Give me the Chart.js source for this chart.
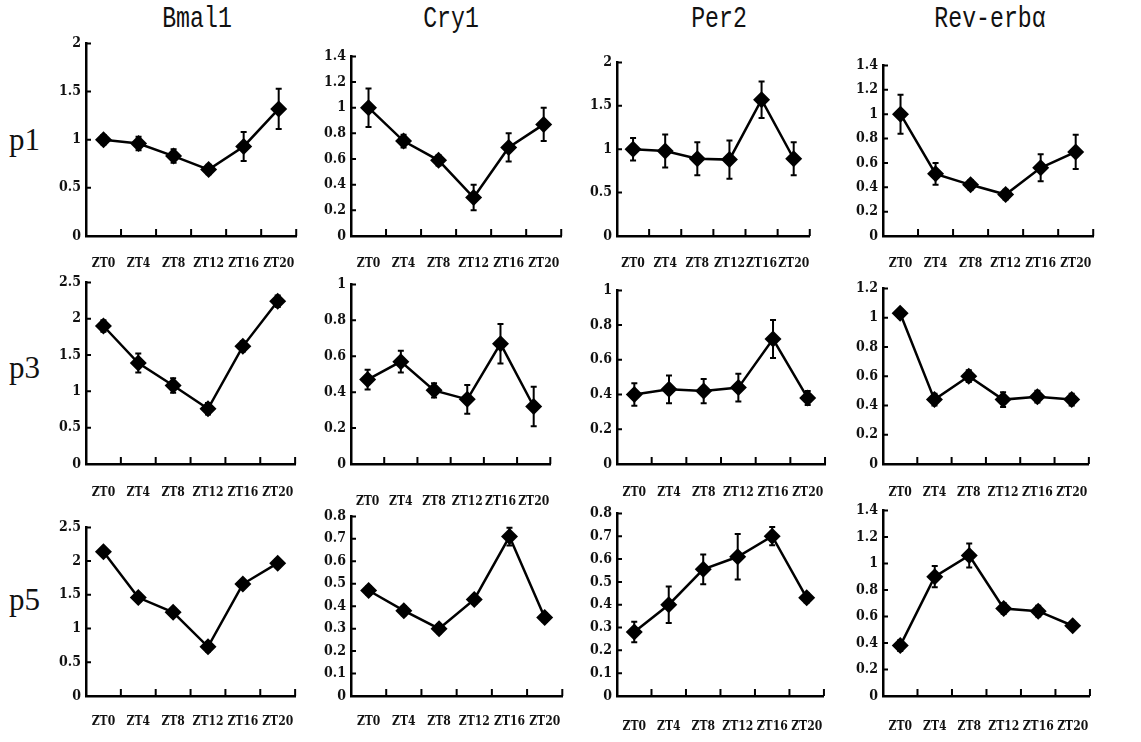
<!DOCTYPE html>
<html>
<head>
<meta charset="utf-8">
<script src="https://cdn.jsdelivr.net/npm/chart.js@4.4.0/dist/chart.umd.min.js"></script>
<style>
  body { margin: 0; background: #fff; }
  #wrap { position: relative; width: 1141px; height: 742px; overflow: hidden; }
  canvas { position: absolute; }
  .gene { position: absolute; top: 3px; font-family: 'Liberation Mono', monospace; font-size: 29px;
          color: #111; transform: translateX(-50%) scaleX(0.8); white-space: nowrap; }
  .row { position: absolute; left: 9px; font-family: 'Liberation Serif', serif; font-size: 31px; color: #111;
         transform: translateY(-50%); }
</style>
</head>
<body>
<div id="wrap"></div>
<script>
// --- DATA ---
const timepoints = ['ZT0', 'ZT4', 'ZT8', 'ZT12', 'ZT16', 'ZT20'];
const genes = ['Bmal1', 'Cry1', 'Per2', 'Rev-erbα'];
const passages = ['p1', 'p3', 'p5'];

// p1
const p1Bmal1 = [1.00, 0.96, 0.83, 0.69, 0.93, 1.32];
const p1Bmal1Err = [0.05, 0.07, 0.07, 0.05, 0.15, 0.21];
const p1Cry1 = [1.00, 0.74, 0.59, 0.30, 0.69, 0.87];
const p1Cry1Err = [0.15, 0.05, 0.04, 0.10, 0.11, 0.13];
const p1Per2 = [1.00, 0.98, 0.89, 0.88, 1.57, 0.89];
const p1Per2Err = [0.13, 0.19, 0.19, 0.22, 0.21, 0.19];
const p1Rev = [1.00, 0.51, 0.42, 0.34, 0.56, 0.69];
const p1RevErr = [0.16, 0.09, 0.04, 0.04, 0.11, 0.14];
// p3
const p3Bmal1 = [1.90, 1.39, 1.08, 0.76, 1.62, 2.24];
const p3Bmal1Err = [0.08, 0.13, 0.10, 0.08, 0.07, 0.08];
const p3Cry1 = [0.47, 0.57, 0.41, 0.36, 0.67, 0.32];
const p3Cry1Err = [0.055, 0.06, 0.04, 0.08, 0.11, 0.11];
const p3Per2 = [0.40, 0.43, 0.42, 0.44, 0.72, 0.38];
const p3Per2Err = [0.065, 0.08, 0.07, 0.08, 0.11, 0.04];
const p3Rev = [1.03, 0.44, 0.60, 0.44, 0.46, 0.44];
const p3RevErr = [0.03, 0.04, 0.04, 0.05, 0.04, 0.04];
// p5
const p5Bmal1 = [2.14, 1.46, 1.24, 0.73, 1.66, 1.97];
const p5Bmal1Err = [0.05, 0.06, 0.06, 0.07, 0.06, 0.06];
const p5Cry1 = [0.47, 0.38, 0.30, 0.43, 0.71, 0.35];
const p5Cry1Err = [0.02, 0.02, 0.02, 0.02, 0.04, 0.02];
const p5Per2 = [0.28, 0.40, 0.555, 0.61, 0.70, 0.43];
const p5Per2Err = [0.045, 0.08, 0.065, 0.10, 0.04, 0.02];
const p5Rev = [0.38, 0.90, 1.06, 0.66, 0.64, 0.53];
const p5RevErr = [0.04, 0.08, 0.09, 0.04, 0.04, 0.03];

// y axis ranges, row by row
const yMax = [[2, 1.4, 2, 1.4], [2.5, 1, 1, 1.2], [2.5, 0.8, 0.8, 1.4]];
const yStep = [[0.5, 0.2, 0.5, 0.2], [0.5, 0.2, 0.2, 0.2], [0.5, 0.1, 0.1, 0.2]];

const values = [[p1Bmal1, p1Cry1, p1Per2, p1Rev], [p3Bmal1, p3Cry1, p3Per2, p3Rev], [p5Bmal1, p5Cry1, p5Per2, p5Rev]];
const errors = [[p1Bmal1Err, p1Cry1Err, p1Per2Err, p1RevErr], [p3Bmal1Err, p3Cry1Err, p3Per2Err, p3RevErr], [p5Bmal1Err, p5Cry1Err, p5Per2Err, p5RevErr]];

// --- LAYOUT (plot area: axis left, axis right, top of y range, x axis line; label gap) ---
const boxes = [
  [[86, 306, 42, 236, 29], [351, 571, 55, 236, 29], [617, 821, 61, 236, 29], [883, 1103, 64, 236, 29]],
  [[86, 306, 281, 464, 30], [351, 571, 283, 464, 39], [617, 836, 289, 464, 30], [883, 1100, 287, 464, 30]],
  [[86, 303, 526, 696, 27], [351, 570, 515, 696, 27], [617, 837, 512, 696, 32], [883, 1103, 509, 696, 32]]
];
const titleX = [197, 451, 719, 990];
const rowY = [140, 368, 600];

const wrap = document.getElementById('wrap');
const PAD_L = 50, PAD_T = 12, PAD_R = 10, PAD_B = 45;
const yFont = { family: "'DejaVu Serif Condensed', 'Liberation Serif', serif", size: 14, weight: 'bold' };
const xFont = { family: "'DejaVu Serif Condensed', 'Liberation Serif', serif", size: 12, weight: 'bold' };

// error bars under the markers
const errorBars = {
  id: 'errorBars',
  beforeDatasetsDraw(chart) {
    const { ctx, scales: { x, y } } = chart;
    const errs = chart.options.plugins.errorBars.errs;
    const data = chart.data.datasets[0].data;
    ctx.save();
    ctx.strokeStyle = '#000';
    ctx.lineWidth = 2;
    data.forEach((v, i) => {
      const px = x.getPixelForValue(i);
      const hi = y.getPixelForValue(v + errs[i]);
      const lo = y.getPixelForValue(v - errs[i]);
      ctx.beginPath();
      ctx.moveTo(px, hi); ctx.lineTo(px, lo);
      ctx.moveTo(px - 3, hi); ctx.lineTo(px + 3, hi);
      ctx.moveTo(px - 3, lo); ctx.lineTo(px + 3, lo);
      ctx.stroke();
    });
    ctx.restore();
  }
};

// small inward tick marks on both axes
const innerTicks = {
  id: 'innerTicks',
  afterDraw(chart) {
    const { ctx, chartArea: a, scales: { x, y } } = chart;
    ctx.save();
    ctx.strokeStyle = '#000';
    ctx.lineWidth = 2;
    ctx.beginPath();
    y.ticks.forEach(t => {
      const py = y.getPixelForValue(t.value);
      ctx.moveTo(a.left, py); ctx.lineTo(a.left + 5, py);
    });
    for (let i = 1; i <= timepoints.length; i++) {
      const px = i < timepoints.length
        ? (x.getPixelForValue(i - 1) + x.getPixelForValue(i)) / 2
        : a.right;
      ctx.moveTo(px, a.bottom); ctx.lineTo(px, a.bottom - 7);
    }
    ctx.stroke();
    ctx.restore();
  }
};

genes.forEach((g, c) => {
  const d = document.createElement('div');
  d.className = 'gene';
  d.style.left = titleX[c] + 'px';
  d.textContent = g;
  wrap.appendChild(d);
});
passages.forEach((p, r) => {
  const d = document.createElement('div');
  d.className = 'row';
  d.style.top = rowY[r] + 'px';
  d.textContent = p;
  wrap.appendChild(d);
});

passages.forEach((p, r) => {
  genes.forEach((g, c) => {
    const [L, R, T, B, gap] = boxes[r][c];
    const cv = document.createElement('canvas');
    const w = R - L + PAD_L + PAD_R;
    const h = B - T + PAD_T + PAD_B;
    cv.width = w; cv.height = h;
    cv.style.left = (L - PAD_L) + 'px';
    cv.style.top = (T - PAD_T) + 'px';
    cv.style.width = w + 'px'; cv.style.height = h + 'px';
    wrap.appendChild(cv);

    new Chart(cv, {
      type: 'line',
      data: {
        labels: timepoints,
        datasets: [{
          data: values[r][c],
          borderColor: '#000',
          borderWidth: 2.5,
          pointStyle: 'rectRot',
          pointRadius: 8.5,
          pointBackgroundColor: '#000',
          pointBorderColor: '#000',
          pointBorderWidth: 0,
          tension: 0,
          clip: false
        }]
      },
      options: {
        responsive: false,
        animation: false,
        devicePixelRatio: 1,
        layout: { padding: { left: 0, top: PAD_T, right: PAD_R, bottom: 0 } },
        plugins: {
          legend: { display: false },
          tooltip: { enabled: false },
          errorBars: { errs: errors[r][c] }
        },
        scales: {
          x: {
            offset: true,
            grid: { display: false, drawTicks: false },
            border: { display: true, color: '#000', width: 2.5 },
            ticks: { color: '#111', font: xFont, padding: gap - 8, maxRotation: 0, autoSkip: false },
            afterFit(s) { s.height = PAD_B; }
          },
          y: {
            min: 0,
            max: yMax[r][c],
            grid: { display: false, drawTicks: false },
            border: { display: true, color: '#000', width: 2.5 },
            ticks: {
              stepSize: yStep[r][c],
              color: '#111',
              font: yFont,
              padding: 5,
              callback: v => String(Number(v.toFixed(1)))
            },
            afterFit(s) { s.width = PAD_L; }
          }
        }
      },
      plugins: [errorBars, innerTicks]
    });
  });
});
</script>
</body>
</html>
